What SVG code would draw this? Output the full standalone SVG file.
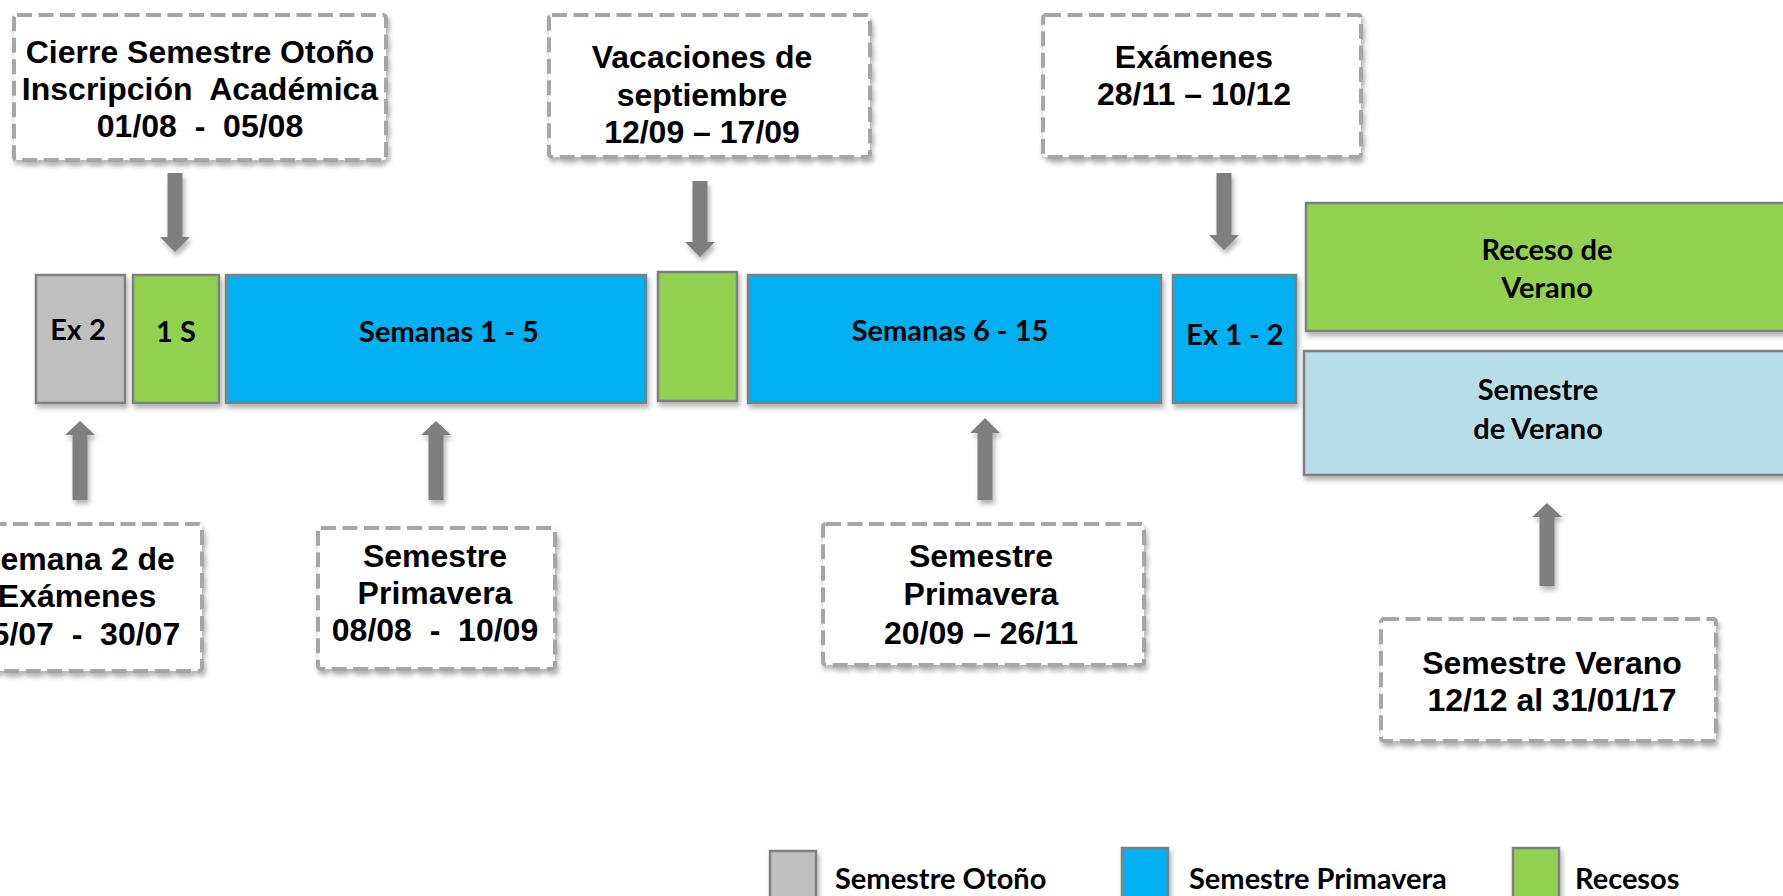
<svg xmlns="http://www.w3.org/2000/svg" width="1783" height="896" viewBox="0 0 1783 896">
<defs>
<filter id="sh" x="-10%" y="-10%" width="130%" height="140%">
<feDropShadow dx="2" dy="4" stdDeviation="2.5" flood-color="#000" flood-opacity="0.3"/>
</filter>
<style>
.note{fill:#fff;stroke:#a6a6a6;stroke-width:4;stroke-dasharray:15 6.5;filter:url(#sh)}
.nt{font-family:"Liberation Sans",Arial,sans-serif;font-weight:bold;font-size:32px;fill:#000;text-anchor:middle}
.blk{stroke:#7f7f7f;stroke-width:2.5;filter:url(#sh)}
.bt{font-family:Lato,"Open Sans",sans-serif;font-weight:bold;font-size:29px;fill:#000;text-anchor:middle}
.lt{font-family:Lato,"Open Sans",sans-serif;font-weight:bold;font-size:29px;fill:#000}
.gray{fill:#bfbfbf}.green{fill:#92d050}.blue{fill:#00b0f0}.lblue{fill:#b7dee8}
.arr{fill:#7f7f7f;filter:url(#sh)}
</style>
</defs>
<rect width="1783" height="896" fill="#fff"/>

<g id="connectors">
<polygon class="arr" points="167.5,173 182.5,173 182.5,237 190,237 175,252 160,237 167.5,237"/>
<polygon class="arr" points="692.5,181 707.5,181 707.5,242 715,242 700,257 685,242 692.5,242"/>
<polygon class="arr" points="1216.5,173 1231.5,173 1231.5,235 1239,235 1224,250 1209,235 1216.5,235"/>
<polygon class="arr" points="72.5,500 87.5,500 87.5,435 95,435 80,421 65,435 72.5,435"/>
<polygon class="arr" points="428.5,500 443.5,500 443.5,435 451,435 436,421 421,435 428.5,435"/>
<polygon class="arr" points="977.5,500 992.5,500 992.5,433 1000,433 985,418 970,433 977.5,433"/>
<polygon class="arr" points="1539.5,586 1554.5,586 1554.5,517 1562,517 1547,503 1532,517 1539.5,517"/>
</g>

<g id="note-cierre">
<rect class="note" x="14" y="15" width="372" height="145" rx="3"/>
<text class="nt" x="200" y="63" xml:space="preserve">Cierre Semestre Otoño</text>
<text class="nt" x="200" y="100" xml:space="preserve">Inscripción  Académica</text>
<text class="nt" x="200" y="137" xml:space="preserve">01/08  -  05/08</text>
</g>
<g id="note-vacaciones">
<rect class="note" x="549" y="15" width="321" height="142" rx="3"/>
<text class="nt" x="702" y="68">Vacaciones de</text>
<text class="nt" x="702" y="105.5">septiembre</text>
<text class="nt" x="702" y="143">12/09 – 17/09</text>
</g>
<g id="note-examenes">
<rect class="note" x="1043" y="15" width="318" height="142" rx="3"/>
<text class="nt" x="1194" y="68">Exámenes</text>
<text class="nt" x="1194" y="105">28/11 – 10/12</text>
</g>
<g id="note-semana2">
<rect class="note" x="-33" y="524" width="235" height="147" rx="3"/>
<text class="nt" x="77" y="570">Semana 2 de</text>
<text class="nt" x="77" y="607">Exámenes</text>
<text class="nt" x="77" y="645" xml:space="preserve">25/07  -  30/07</text>
</g>
<g id="note-primavera1">
<rect class="note" x="318" y="528" width="237" height="141" rx="3"/>
<text class="nt" x="435" y="567">Semestre</text>
<text class="nt" x="435" y="604">Primavera</text>
<text class="nt" x="435" y="641" xml:space="preserve">08/08  -  10/09</text>
</g>
<g id="note-primavera2">
<rect class="note" x="823" y="524" width="321" height="141" rx="3"/>
<text class="nt" x="981" y="567">Semestre</text>
<text class="nt" x="981" y="605">Primavera</text>
<text class="nt" x="981" y="644">20/09 – 26/11</text>
</g>
<g id="note-verano">
<rect class="note" x="1381" y="619" width="335" height="122" rx="3"/>
<text class="nt" x="1552" y="674">Semestre Verano</text>
<text class="nt" x="1552" y="711">12/12 al 31/01/17</text>
</g>

<g id="blk-ex2">
<rect class="blk gray" x="36" y="275" width="89" height="128"/>
<text class="bt" x="78" y="340">Ex 2</text>
</g>
<g id="blk-1s">
<rect class="blk green" x="133" y="275" width="86" height="128"/>
<text class="bt" x="176" y="342">1 S</text>
</g>
<g id="blk-sem1-5">
<rect class="blk blue" x="226" y="275" width="420" height="128"/>
<text class="bt" x="449" y="342">Semanas 1 - 5</text>
</g>
<g id="blk-vac">
<rect class="blk green" x="658" y="272" width="79" height="129"/>
</g>
<g id="blk-sem6-15">
<rect class="blk blue" x="748" y="275" width="413" height="128"/>
<text class="bt" x="950" y="341">Semanas 6 - 15</text>
</g>
<g id="blk-ex12">
<rect class="blk blue" x="1173" y="275" width="123" height="128"/>
<text class="bt" x="1235" y="345">Ex 1 - 2</text>
</g>
<g id="blk-receso">
<rect class="blk green" x="1306" y="203" width="490" height="128"/>
<text class="bt" x="1547" y="260">Receso de</text>
<text class="bt" x="1547" y="298">Verano</text>
</g>
<g id="blk-semverano">
<rect class="blk lblue" x="1304" y="351" width="492" height="124"/>
<text class="bt" x="1538" y="400">Semestre</text>
<text class="bt" x="1538" y="439">de Verano</text>
</g>

<g id="legend">
<rect class="blk gray" x="770" y="851" width="46" height="60"/>
<text class="lt" x="835" y="889">Semestre Otoño</text>
<rect class="blk blue" x="1122" y="848" width="46" height="60"/>
<text class="lt" x="1189" y="889">Semestre Primavera</text>
<rect class="blk green" x="1513" y="848" width="46" height="60"/>
<text class="lt" x="1575" y="889">Recesos</text>
</g>
</svg>
